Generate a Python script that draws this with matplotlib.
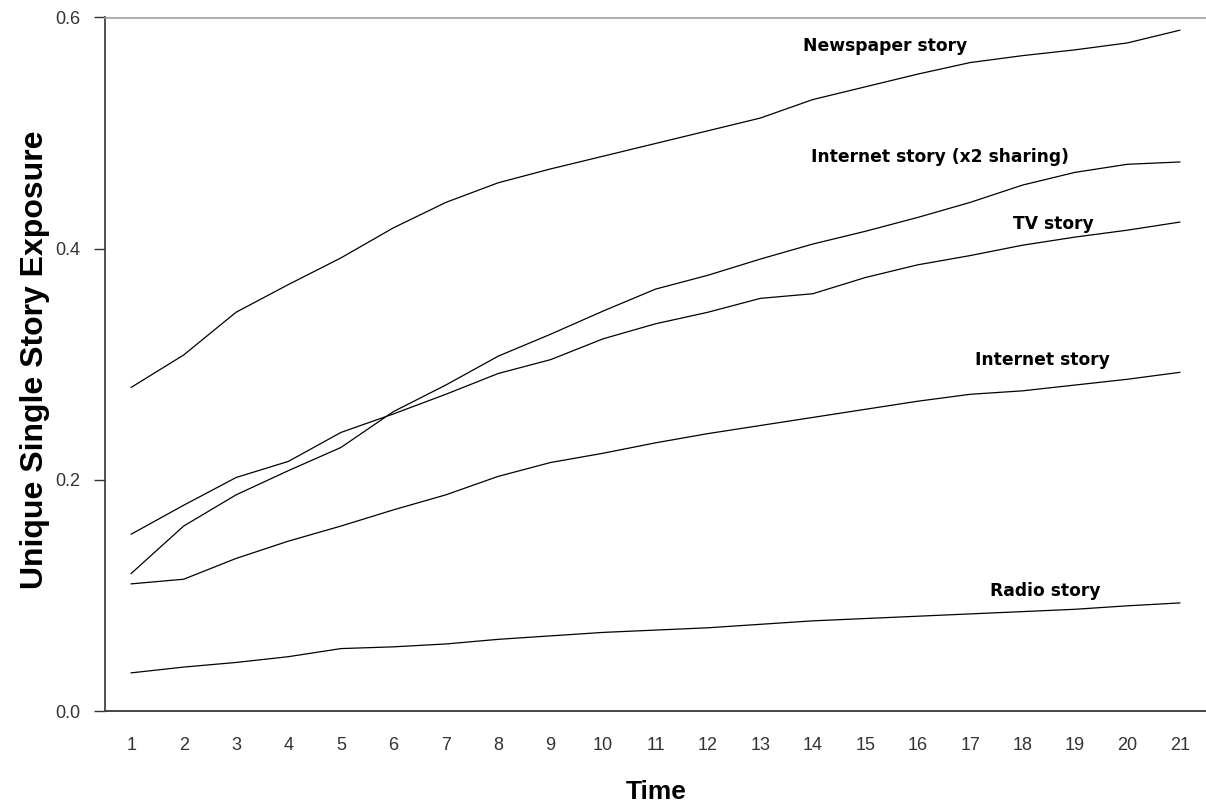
import matplotlib
matplotlib.use("Agg")
import matplotlib.pyplot as plt

time = list(range(1, 22))
newspaper = [0.280, 0.308, 0.345, 0.369, 0.392, 0.418, 0.440, 0.457, 0.469, 0.480,
             0.491, 0.502, 0.513, 0.529, 0.540, 0.551, 0.561, 0.567, 0.572, 0.578, 0.589]
internet_x2 = [0.119, 0.160, 0.187, 0.208, 0.228, 0.259, 0.282, 0.307, 0.326, 0.346,
               0.365, 0.377, 0.391, 0.404, 0.415, 0.427, 0.440, 0.455, 0.466, 0.473, 0.475]
tv = [0.153, 0.178, 0.202, 0.216, 0.241, 0.257, 0.274, 0.292, 0.304, 0.322,
      0.335, 0.345, 0.357, 0.361, 0.375, 0.386, 0.394, 0.403, 0.410, 0.416, 0.423]
internet = [0.110, 0.114, 0.132, 0.147, 0.160, 0.174, 0.187, 0.203, 0.215, 0.223,
            0.232, 0.240, 0.247, 0.254, 0.261, 0.268, 0.274, 0.277, 0.282, 0.287, 0.293]
radio = [0.033, 0.038, 0.042, 0.047, 0.054, 0.0555, 0.058, 0.062, 0.065, 0.068,
         0.070, 0.072, 0.075, 0.078, 0.080, 0.082, 0.084, 0.086, 0.088, 0.091, 0.0935]

series = [newspaper, internet_x2, tv, internet, radio]
labels = ["Newspaper story", "Internet story (x2 sharing)", "TV story",
          "Internet story", "Radio story"]
label_pos = [(15.38, 0.575), (16.42, 0.479), (18.58, 0.4216), (18.37, 0.304), (18.43, 0.104)]

y_ticks = [0.0, 0.2, 0.4, 0.6]
y_ticklabels = ["0.0", "0.2", "0.4", "0.6"]

fig = plt.figure(figsize=(12.06, 8.11), dpi=100)
ax = fig.add_axes([105/1206, 1 - 711/811, 1 - 105/1206, (711 - 17.5)/811])

for s in series:
    ax.plot(time, s, color="black", lw=0.9)

for lab, (x, y) in zip(labels, label_pos):
    ax.text(x, y, lab, ha="center", va="center", fontsize=12.3,
            fontweight="bold", family="DejaVu Sans", color="black")

ax.set_xlim(0.5, 21.5)
ax.set_ylim(0.0, 0.6)
ax.set_xticks(time)
ax.set_xticklabels([str(t) for t in time])
ax.set_yticks(y_ticks)
ax.set_yticklabels(y_ticklabels)

for lbl in ax.get_xticklabels() + ax.get_yticklabels():
    lbl.set_family("Liberation Sans")
    lbl.set_fontsize(13)
    lbl.set_color("#333333")

ax.tick_params(axis="x", length=0, pad=19)
ax.tick_params(axis="y", length=8, width=1, color="#333333", pad=10)

ax.spines["right"].set_visible(False)
ax.spines["top"].set_color("#a0a0a0")
ax.spines["top"].set_linewidth(1.2)
ax.spines["left"].set_color("#333333")
ax.spines["bottom"].set_color("#444444")
ax.spines["left"].set_linewidth(1.2)
ax.spines["bottom"].set_linewidth(1.4)

ax.set_xlabel("Time", fontsize=19, fontweight="bold", family="Liberation Sans")
ax.set_ylabel("Unique Single Story Exposure", fontsize=23, fontweight="bold",
              family="Liberation Sans")
ax.xaxis.set_label_coords(0.501, -0.099)
ax.yaxis.set_label_coords(-0.050, 0.506)

fig.savefig("out.png", dpi=100)
